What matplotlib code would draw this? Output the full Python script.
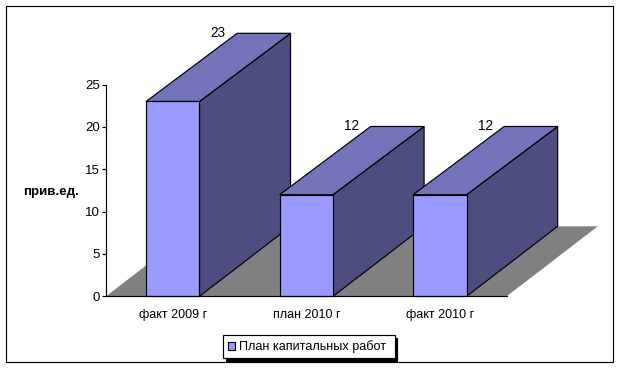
import matplotlib
matplotlib.use("Agg")
import matplotlib.pyplot as plt
from matplotlib.patches import Polygon, Rectangle

plt.rcParams['font.family'] = ['Liberation Sans', 'DejaVu Sans']
plt.rcParams['font.size'] = 9

categories = ['факт 2009 г', 'план 2010 г', 'факт 2010 г']
values = [23, 12, 12]
series_name = 'План капитальных работ'
y_ticks = [0, 5, 10, 15, 20, 25]
y_label = 'прив.ед.'

W, H = 619, 368
FRONT, TOP, SIDE, FLOOR = '#9999FF', '#7373B9', '#4D4D7F', '#808080'
LW = 0.85

fig = plt.figure(figsize=(W / 100, H / 100), dpi=100, facecolor='white')
# outer frame
fig.add_artist(Rectangle((5.5 / W, 1 - 361.5 / H), 607 / W, 356 / H, transform=fig.transFigure,
                         fill=False, ec='black', lw=LW))

ax = fig.add_axes([106 / W, 1 - 296.3 / H, 400.7 / W, 211.75 / H])
ax.patch.set_visible(False)
ax.set_xlim(0, 3)
ax.set_ylim(0, 25)
ax.set_zorder(1)

DX, DY = 0.6815, 8.26      # oblique depth of the floor, in data units
DY_TOP = 8.05              # depth of the bar top edge
BAR_W = 0.4

# floor
ax.add_patch(Polygon([(0, 0), (3, 0), (3 + DX, DY), (DX, DY)], closed=True, fc=FLOOR, ec='none',
                     clip_on=False, zorder=1))

positions = [i + 0.5 for i in range(len(values))]
for i, (x, v) in enumerate(zip(positions, values)):
    z = 2 + i
    l, r = x - BAR_W / 2, x + BAR_W / 2
    ax.add_patch(Polygon([(r, 0), (r + DX, DY), (r + DX, v + DY_TOP), (r, v)], closed=True, fc=SIDE,
                         ec='black', lw=LW, clip_on=False, zorder=z))
    ax.add_patch(Polygon([(l, v), (r, v), (r + DX, v + DY_TOP), (l + DX, v + DY_TOP)], closed=True, fc=TOP,
                         ec='black', lw=LW, clip_on=False, zorder=z))
    ax.bar([x], [v], width=BAR_W, color=FRONT, edgecolor='black', linewidth=LW,
           zorder=z, clip_on=False, label=series_name if i == 0 else None)
    ax.annotate(str(v), (l + DX, v + DY_TOP), xytext=(-13.5, 0.3), textcoords='offset points',
                ha='center', va='center', fontsize=9.8, color='black', zorder=10, annotation_clip=False)

for s in ('top', 'right'):
    ax.spines[s].set_visible(False)
for s in ('left', 'bottom'):
    ax.spines[s].set_linewidth(LW)
    ax.spines[s].set_zorder(8)

ax.set_yticks(y_ticks)
ax.tick_params(axis='y', length=3, width=LW, pad=1.5, labelsize=9.5)
ax.set_xticks(positions)
ax.set_xticklabels(categories, fontsize=9)
ax.tick_params(axis='x', length=0, pad=9)
ax.set_ylabel(y_label, rotation=0, fontweight='bold', fontsize=9.6, ha='center', va='center')
ax.yaxis.set_label_coords(-55 / 400.7, 104.3 / 211.75)

leg = fig.legend(*ax.get_legend_handles_labels(), loc='lower left', mode='expand',
                 bbox_to_anchor=(223 / W, 1 - 358.3 / H, 171.5 / W, 23 / H), fancybox=False, framealpha=1,
                 edgecolor='black', shadow={'color': 'black', 'alpha': 1}, fontsize=9.1,
                 handlelength=0.55, handleheight=0.55, handletextpad=0.3, borderpad=0.4,
                 labelspacing=0, borderaxespad=0)
leg.get_frame().set_linewidth(LW)
leg.set_zorder(20)

fig.savefig('out.png', dpi=100, facecolor='white')
